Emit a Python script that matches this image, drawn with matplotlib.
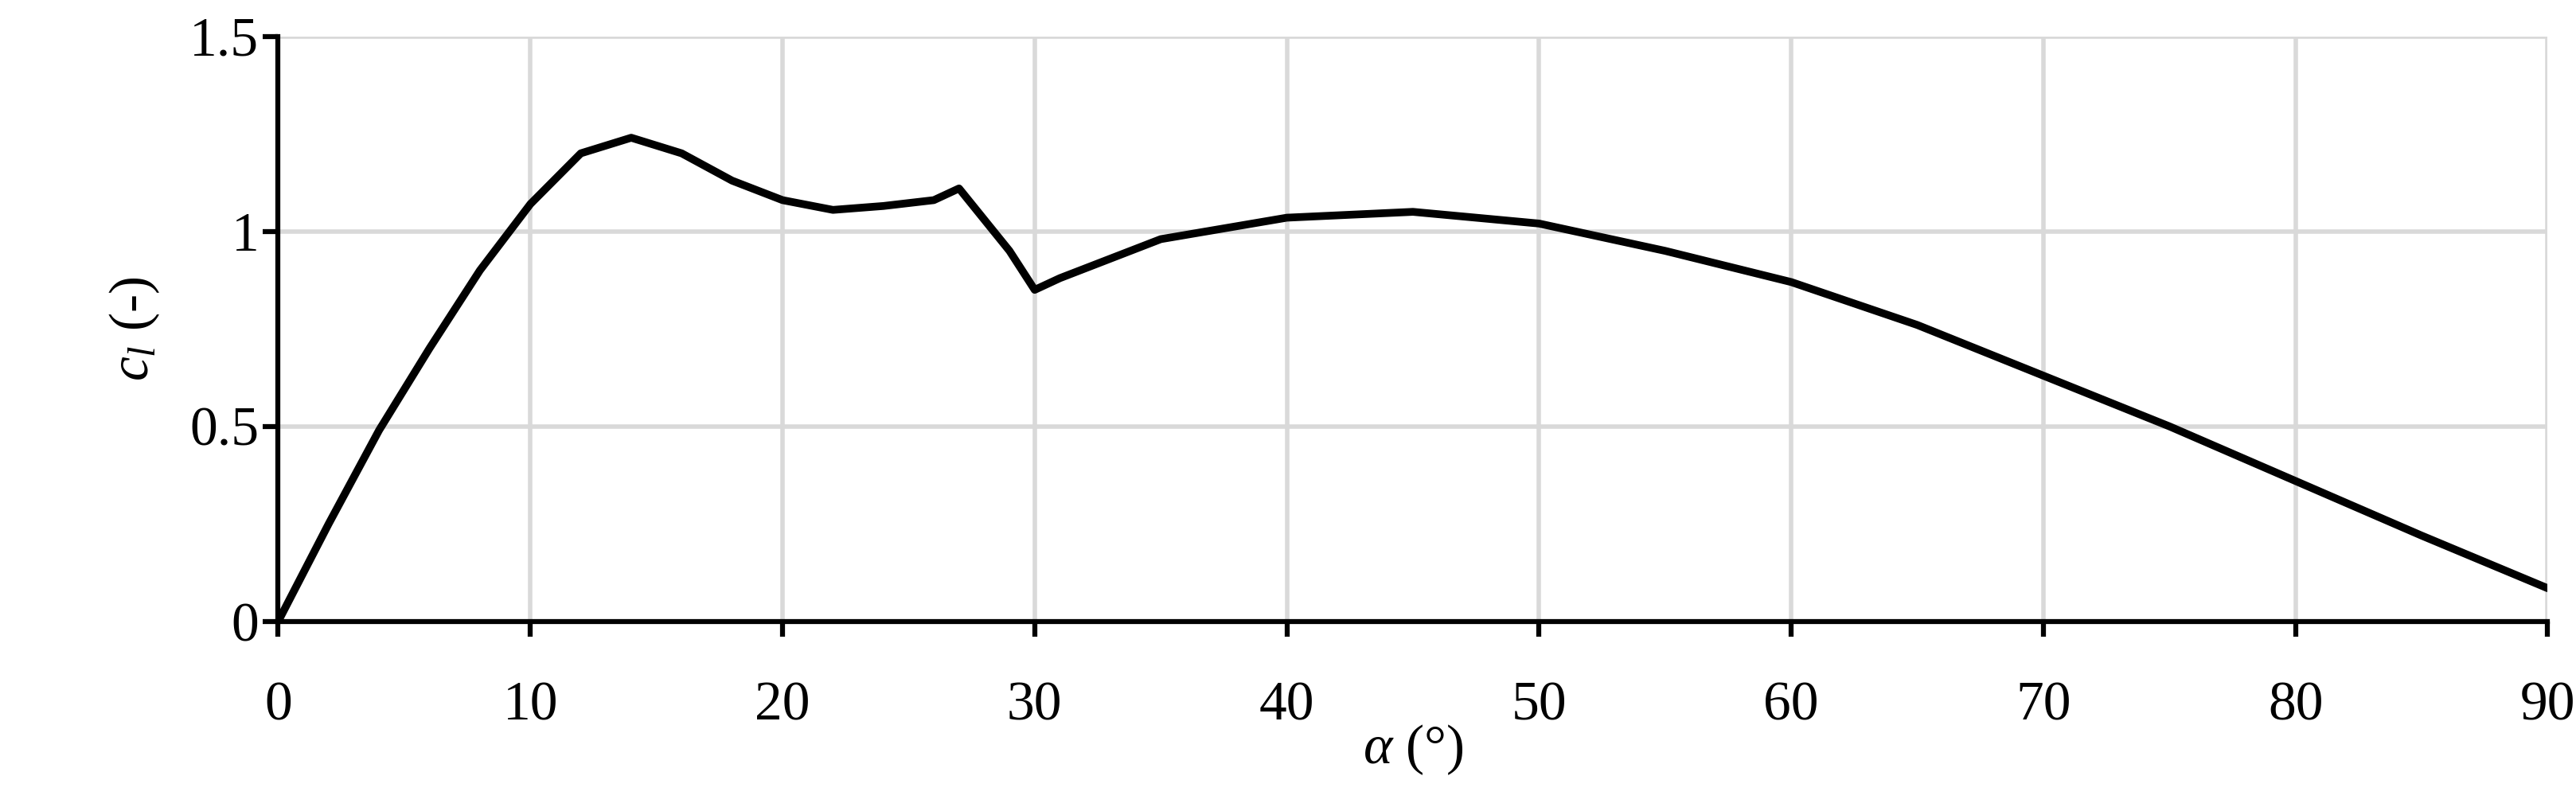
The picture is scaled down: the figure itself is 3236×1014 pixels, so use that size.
import matplotlib.pyplot as plt

alpha = [0, 2, 4, 6, 8, 10, 12, 14, 16, 18, 20, 22, 24, 26, 27, 28, 29, 30, 31,
         33, 35, 40, 45, 50, 55, 60, 65, 70, 75, 80, 85, 90]
cl = [0, 0.25, 0.49, 0.70, 0.90, 1.07, 1.20, 1.24, 1.20, 1.13, 1.08, 1.055, 1.065,
      1.08, 1.11, 1.03, 0.95, 0.85, 0.88, 0.93, 0.98, 1.035, 1.05, 1.02, 0.95,
      0.87, 0.76, 0.63, 0.50, 0.36, 0.22, 0.085]
xticks = list(range(0, 91, 10))
yticks = [0, 0.5, 1, 1.5]
ytick_labels = ['0', '0.5', '1', '1.5']

plt.rcParams['font.family'] = ['Liberation Serif', 'DejaVu Serif']
plt.rcParams['mathtext.fontset'] = 'custom'
plt.rcParams['mathtext.it'] = 'Liberation Serif:italic'
plt.rcParams['mathtext.rm'] = 'Liberation Serif'

fig = plt.figure(figsize=(32.36, 10.14), dpi=100)
ax = fig.add_axes([0.108, 0.23, 0.881, 0.725])
ax.plot(alpha, cl, color='black', lw=7, solid_capstyle='round', zorder=3)
ax.set_xlim(0, 90)
ax.set_ylim(0, 1.5)
ax.set_xticks(xticks)
ax.set_yticks(yticks)
ax.set_yticklabels(ytick_labels)
ax.grid(True, color='#d9d9d9', lw=4)
for s in ['top', 'right']:
    ax.spines[s].set_visible(False)
for s in ['left', 'bottom']:
    ax.spines[s].set_linewidth(4.5)
    ax.spines[s].set_zorder(4)
ax.tick_params(axis='both', direction='out', length=14, width=4.5, labelsize=50)
ax.tick_params(axis='x', pad=40)
ax.set_xlabel(r'$\alpha$ (°)', fontsize=50, labelpad=-8)
ax.set_ylabel(r'$c_l$ (-)', fontsize=50, labelpad=25)
fig.savefig('out.png', dpi=100)
